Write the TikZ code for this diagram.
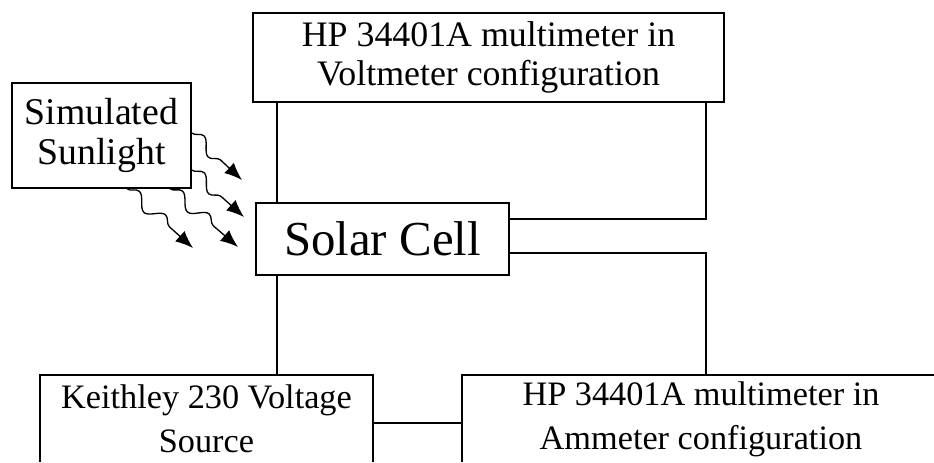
\documentclass[tikz,border=0pt]{standalone}
\usepackage{fontspec}
\setmainfont{Liberation Serif}
\usetikzlibrary{arrows.meta,decorations.pathmorphing}

\begin{document}
\begin{tikzpicture}[x=0.02cm,y=-0.02cm,
    devbox/.style={draw, line width=0.8pt, align=center, inner sep=0pt},
    wire/.style={line width=0.8pt},
    light/.style={line width=0.75pt, decorate,
      decoration={snake, amplitude=3.6pt, segment length=20pt, post length=10pt}},
    lighttip/.style={-{Latex[length=10pt,width=8pt]}}]
  \useasboundingbox (0,0) rectangle (934,463);
  \clip (0,0) rectangle (934,461.5);
  \node[devbox, minimum width=9.42cm, minimum height=1.78cm,
        font={\fontsize{20.4}{22}\selectfont}] (volt) at (488.5,57.5)
        {HP 34401A multimeter in\\Voltmeter configuration};
  \node[devbox, minimum width=3.58cm, minimum height=2.1cm,
        font={\fontsize{21.5}{22.7}\selectfont}] (sun) at (101.5,135.5)
        {Simulated\\Sunlight};
  \node[devbox, minimum width=5.06cm, minimum height=1.44cm,
        font={\fontsize{27.8}{30}\selectfont}] (cell) at (382.5,239) {Solar Cell};
  \node[devbox, minimum width=6.66cm, minimum height=1.76cm,
        font={\fontsize{19.5}{25}\selectfont}] (keith) at (206.5,419)
        {Keithley 230 Voltage\\Source};
  \node[devbox, minimum width=9.56cm, minimum height=1.76cm,
        font={\fontsize{19.5}{25}\selectfont}] (amm) at (701,419)
        {HP 34401A multimeter in\\Ammeter configuration};
  \coordinate (tapL) at (277,0);
  \coordinate (vR) at (706,219);
  \coordinate (aR) at (706,253);
  \coordinate (mid) at (420,423);
  \draw[wire] (volt.south -| tapL) -- (cell.north -| tapL);
  \draw[wire] (cell.south -| tapL) -- (keith.north -| tapL);
  \draw[wire] (volt.south -| vR) -- (vR) -- (cell.east |- vR);
  \draw[wire] (cell.east |- aR) -- (aR) -- (amm.north -| aR);
  \draw[wire] (keith.east |- mid) -- (amm.west |- mid);
  \coordinate (r1) at (242,180);
  \coordinate (r2) at (244,217);
  \coordinate (r3) at (193,248);
  \coordinate (r4) at (238,247);
  \draw[lighttip, light] ([yshift=0.05cm]sun.east) -- (r1);
  \draw[lighttip, light] ([yshift=-0.69cm]sun.east) -- (r2);
  \draw[lighttip, light] ([xshift=0.51cm]sun.south) -- (r3);
  \draw[lighttip, light] ([xshift=1.37cm]sun.south) -- (r4);
\end{tikzpicture}
\end{document}
